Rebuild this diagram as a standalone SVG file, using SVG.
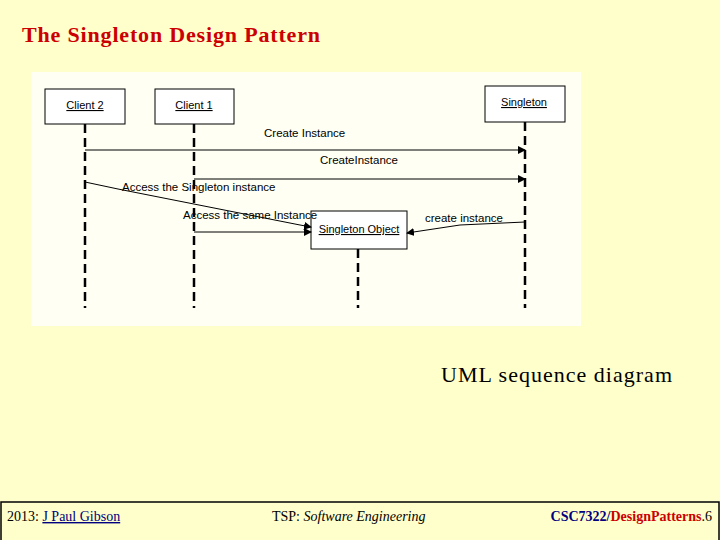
<svg xmlns="http://www.w3.org/2000/svg" width="720" height="540" viewBox="0 0 720 540">
<defs>
<marker id="ah" markerWidth="8" markerHeight="8" refX="7" refY="4" orient="auto" markerUnits="userSpaceOnUse"><path d="M0,0 L8,4 L0,8 z" fill="#000"/></marker>
</defs>
<style>
.box{fill:#fff;stroke:#000;stroke-width:1}
.lt{font-family:"Liberation Sans",sans-serif;font-size:11px;text-decoration:underline;text-anchor:middle}
.ml{font-family:"Liberation Sans",sans-serif;font-size:11.5px}
.life{stroke:#000;stroke-width:2.5;stroke-dasharray:9,5}
.msg{stroke:#000;stroke-width:1;fill:none;marker-end:url(#ah)}
.ft{font-family:"Liberation Serif",serif;font-size:14px}
</style>
<rect width="720" height="540" fill="#FFFFCC"/>
<text x="22" y="42" font-family="Liberation Serif,serif" font-size="22" font-weight="bold" fill="#CC0000" textLength="298">The Singleton Design Pattern</text>
<rect x="31" y="72" width="550" height="254" fill="#FFFFF4"/>
<g id="lifelines">
<line class="life" x1="85" y1="124" x2="85" y2="308"/>
<line class="life" x1="194" y1="124" x2="194" y2="308" stroke-width="1.5"/>
<line class="life" x1="525" y1="122" x2="525" y2="308"/>
<line class="life" x1="358" y1="249" x2="358" y2="308"/>
</g>
<g id="client2"><rect class="box" x="45" y="89" width="80" height="35"/><text class="lt" x="85" y="109">Client 2</text></g>
<g id="client1"><rect class="box" x="155" y="89" width="79" height="35"/><text class="lt" x="194" y="109">Client 1</text></g>
<g id="singleton"><rect class="box" x="485" y="86" width="80" height="36" stroke-width="2"/><text class="lt" x="524" y="106">Singleton</text></g>
<g id="singletonObject"><rect class="box" x="311" y="211" width="96" height="38"/><text class="lt" x="359" y="233">Singleton Object</text></g>
<g id="connectors">
<line class="msg" x1="85" y1="150" x2="525" y2="150"/>
<text class="ml" x="264" y="137">Create  Instance</text>
<line class="msg" x1="194" y1="179" x2="525" y2="179"/>
<text class="ml" x="320" y="164">CreateInstance</text>
<polyline class="msg" points="85,182 118,189 300,225 311,227"/>
<text class="ml" x="122" y="191">Access the Singleton instance</text>
<line class="msg" x1="194" y1="232" x2="311" y2="232"/>
<text class="ml" x="183" y="219">Access the same Instance</text>
<polyline class="msg" points="525,222 460,225 407,233"/>
<text class="ml" x="425" y="222">create instance</text>
</g>
<text x="672" y="382" text-anchor="end" font-family="Liberation Serif,serif" font-size="22" textLength="231">UML sequence diagram</text>
<rect x="1" y="502" width="718" height="40" fill="none" stroke="#000" stroke-width="1.5"/>
<text class="ft" x="7" y="521">2013: <tspan text-decoration="underline" fill="#000080">J Paul Gibson</tspan></text>
<text class="ft" x="272" y="521">TSP: <tspan font-style="italic">Software Engineering</tspan></text>
<text class="ft" x="712" y="521" text-anchor="end" font-weight="bold" fill="#000080">CSC7322/<tspan fill="#CC0000">DesignPatterns</tspan><tspan font-weight="normal" fill="#000">.6</tspan></text>
</svg>
